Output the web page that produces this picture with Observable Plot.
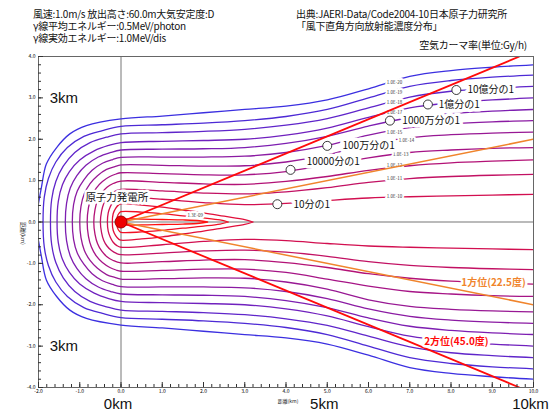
<!DOCTYPE html>
<html><head><meta charset="utf-8">
<script src="https://cdn.jsdelivr.net/npm/d3@7"></script>
<script src="https://cdn.jsdelivr.net/npm/@observablehq/plot@0.6"></script>
<style>
body{margin:0;background:#fff;}
#wrap{position:relative;width:550px;height:414px;overflow:hidden;font-family:"Noto Sans CJK JP",sans-serif;}
#wrap svg{position:absolute;left:0;top:0;}
.hd{position:absolute;font-size:10px;line-height:12px;white-space:pre;color:#111;letter-spacing:-0.25px;}
</style></head><body><div id="wrap"></div>
<script>
// ---- header text ----
const headerLeft = [
  "風速:1.0m/s 放出高さ:60.0m大気安定度:D",
  "γ線平均エネルギー:0.5MeV/photon",
  "γ線実効エネルギー:1.0MeV/dis"
];
const headerRight = [
  "出典:JAERI-Data/Code2004-10日本原子力研究所",
  "「風下直角方向放射能濃度分布」"
];
const unitText = "空気カーマ率(単位:Gy/h)";

// ---- contour lines (upper half, km; mirrored for the lower half) ----
const contourLevels = ["1.0E-20","1.0E-19","1.0E-18","1.0E-17","1.0E-16","1.0E-15","1.0E-14","1.0E-13","1.0E-12","1.0E-11","1.0E-10","1.0E-09","1.2E-09","1.3E-09"];
const c00 = [[-2.0,0.45],[-1.93,0.83],[-1.81,1.40],[-1.56,1.80],[-1.24,2.13],[-0.84,2.33],[0,2.49],[1,2.56],[2,2.64],[3,2.72],[4,2.80],[5,2.95],[6,3.22],[7,3.52],[8,3.66],[9,3.74],[10,3.80]];
const c01 = [[-1.89,0],[-1.86,0.6],[-1.76,1.05],[-1.58,1.45],[-1.3,1.8],[-0.9,2.07],[-0.45,2.21],[0,2.31],[1,2.35],[2,2.39],[3,2.45],[4,2.55],[5,2.72],[6,3.0],[7,3.28],[8,3.42],[9,3.50],[10,3.55]];
const c02 = [[-1.71,0],[-1.68,0.55],[-1.58,0.98],[-1.40,1.35],[-1.12,1.68],[-0.75,1.92],[-0.35,2.05],[0,2.13],[1,2.16],[2,2.19],[3,2.24],[4,2.34],[5,2.50],[6,2.76],[7,3.02],[8,3.16],[9,3.23],[10,3.28]];
const c03 = [[-1.55,0],[-1.52,0.5],[-1.42,0.9],[-1.25,1.22],[-1.0,1.50],[-0.65,1.72],[-0.3,1.85],[0,1.92],[1,1.95],[2,1.97],[3,2.0],[4,2.10],[5,2.27],[6,2.53],[7,2.76],[8,2.88],[9,2.95],[10,3.0]];
const c04 = [[-1.35,0],[-1.32,0.45],[-1.23,0.82],[-1.07,1.12],[-0.85,1.37],[-0.55,1.57],[-0.25,1.68],[0,1.74],[1,1.76],[2,1.77],[3,1.80],[4,1.90],[5,2.07],[6,2.32],[7,2.52],[8,2.62],[9,2.68],[10,2.72]];
const c05 = [[-1.18,0],[-1.15,0.42],[-1.06,0.75],[-0.9,1.02],[-0.7,1.25],[-0.45,1.42],[-0.2,1.51],[0,1.56],[1,1.57],[2,1.57],[3,1.59],[4,1.68],[5,1.85],[6,2.10],[7,2.28],[8,2.37],[9,2.42],[10,2.45]];
const c06 = [[-1.0,0],[-0.97,0.38],[-0.89,0.68],[-0.75,0.93],[-0.57,1.12],[-0.35,1.27],[-0.15,1.34],[0,1.38],[1,1.37],[2,1.35],[3,1.36],[4,1.45],[5,1.62],[6,1.88],[7,2.04],[8,2.11],[9,2.15],[10,2.17]];
const c07 = [[-0.82,0],[-0.79,0.34],[-0.72,0.6],[-0.6,0.82],[-0.45,0.98],[-0.27,1.10],[-0.12,1.16],[0,1.19],[1,1.17],[2,1.14],[3,1.14],[4,1.22],[5,1.38],[6,1.55],[7,1.68],[8,1.74],[9,1.78],[10,1.80]];
const c08 = [[-0.66,0],[-0.63,0.3],[-0.57,0.52],[-0.47,0.7],[-0.34,0.84],[-0.19,0.93],[0,0.99],[1,0.96],[2,0.92],[3,0.91],[4,0.98],[5,1.10],[6,1.25],[7,1.36],[8,1.43],[9,1.47],[10,1.50]];
const c09 = [[-0.5,0],[-0.47,0.26],[-0.42,0.44],[-0.34,0.58],[-0.23,0.69],[-0.11,0.76],[0,0.79],[1,0.75],[2,0.70],[3,0.68],[4,0.73],[5,0.83],[6,0.96],[7,1.05],[8,1.10],[9,1.13],[10,1.15]];
const c10 = [[-0.33,0],[-0.31,0.22],[-0.26,0.37],[-0.19,0.49],[-0.1,0.57],[0,0.61],[1,0.55],[2,0.47],[3,0.42],[4,0.45],[5,0.52],[6,0.58],[7,0.61],[8,0.63],[9,0.65],[10,0.67]];
const c11 = [[-0.21,0],[-0.19,0.2],[-0.13,0.33],[-0.05,0.42],[0,0.44],[0.5,0.41],[1,0.36],[1.5,0.29],[2,0.22],[2.5,0.14],[3.0,0.06],[3.2,0]];
const c12 = [[-0.11,0],[-0.09,0.13],[-0.04,0.22],[0,0.25],[0.5,0.24],[1,0.20],[1.5,0.15],[2,0.10],[2.4,0.05],[2.6,0]];
const c13 = [[-0.06,0],[-0.04,0.05],[0,0.07],[0.5,0.07],[1,0.06],[1.5,0.05],[1.9,0.03],[2.1,0]];
const contourPoints = [c00,c01,c02,c03,c04,c05,c06,c07,c08,c09,c10,c11,c12,c13];

// small level labels on the contours (x, y in km)
const levelLabelText = ["1.0E-20","1.0E-19","1.0E-18","1.0E-17","1.0E-15","1.0E-14","1.0E-13","1.0E-12","1.0E-11","1.0E-10","1.3E-09"];
const levelLabelX = [6.63,6.63,6.63,6.63,6.63,6.92,6.78,6.63,6.63,6.63,1.8];
const levelLabelY = [3.38,3.13,2.89,2.65,2.16,1.96,1.64,1.36,1.06,0.61,0.15];

// dilution markers
const fracText = ["10分の1","10000分の1","100万分の1","1000万分の1","1億分の1","10億分の1"];
const fracCx = [3.79,4.11,5.00,6.52,7.44,8.13];
const fracCy = [0.43,1.26,1.84,2.45,2.84,3.19];
const fracTx = [4.18,4.50,5.37,6.82,7.70,8.40];
const fracTy = [0.41,1.45,1.84,2.45,2.84,3.20];

// sector rays (end points, km)
const rayX = [9.66, 10, 10, 9.66];
const rayY = [4.0, 2.0, -2.0, -4.0];
const rayKind = ["2方位","1方位","1方位","2方位"];
const sectorText = ["1方位(22.5度)","2方位(45.0度)"];
const sectorX = [9.03, 8.13];
const sectorY = [-1.48, -2.90];

const kmLabels = ["0km","5km","10km"];
const kmX = [0,5,10];
const sideLabels = ["3km","3km"];
const sideY = [3,-3];

// ---- build tables ----
const colorStops = ["#3b2fe0","#6a22c4","#8e1aa0","#b0127a","#d80f48","#ff1010"];
const colorAt = d3.scaleLinear().domain(d3.range(colorStops.length).map(i=>i*13/(colorStops.length-1))).range(colorStops).interpolate(d3.interpolateRgb);
const rows = [];
contourPoints.forEach((pts, i) => {
  const up = pts.map(([x,y]) => ({x, y}));
  const lo = pts.map(([x,y]) => ({x, y: -y}));
  if (pts[0][1] === 0) {
    [...up.slice().reverse(), ...lo.slice(1)].forEach(p => rows.push({...p, id: "c"+i, c: colorAt(i)}));
  } else {
    up.forEach(p => rows.push({...p, id: "u"+i, c: colorAt(i)}));
    lo.forEach(p => rows.push({...p, id: "l"+i, c: colorAt(i)}));
  }
});
const levelLabels = levelLabelText.map((t,i)=>({t, x: levelLabelX[i], y: levelLabelY[i]}));
const fracs = fracText.map((t,i)=>({t, cx: fracCx[i], cy: fracCy[i], tx: fracTx[i], ty: fracTy[i]}));
const rays = rayX.map((x,i)=>({x, y: rayY[i], k: rayKind[i]}));
const sectors = sectorText.map((t,i)=>({t, x: sectorX[i], y: sectorY[i], k: i===0 ? "1方位" : "2方位"}));
const rayColor = {"1方位":"#f0842c","2方位":"#ff0a0a"};

const chart = Plot.plot({
  width: 550, height: 414,
  marginLeft: 38, marginRight: 17, marginTop: 56, marginBottom: 27,
  x: {domain: [-2, 10]},
  y: {domain: [-4, 4]},
  color: {type: "identity"},
  style: {fontFamily: "'Noto Sans CJK JP', sans-serif", background: "white", overflow: "visible"},
  marks: [
    Plot.ruleX([0], {stroke: "#777", strokeWidth: 1}),
    Plot.ruleY([0], {stroke: "#777", strokeWidth: 1.2}),
    Plot.line(rows, {x: "x", y: "y", z: "id", stroke: "c", strokeWidth: 1.3, curve: "catmull-rom", clip: "frame"}),
    Plot.text(levelLabels, {x: "x", y: "y", text: "t", fontSize: 4.5, fill: "#333", stroke: "white", strokeWidth: 4}),
    Plot.link(rays, {x1: () => 0, y1: () => 0, x2: "x", y2: "y", stroke: d => rayColor[d.k], strokeWidth: d => d.k === "2方位" ? 1.8 : 1.5, clip: "frame"}),
    Plot.text(sectors, {x: "x", y: "y", text: "t", fontSize: 10, fontWeight: "bold", fill: d => rayColor[d.k], stroke: "white", strokeWidth: 5}),
    Plot.text(fracs, {x: "tx", y: "ty", text: "t", textAnchor: "start", fontSize: 10, fill: "#111", stroke: "white", strokeWidth: 7}),
    Plot.dot(fracs, {x: "cx", y: "cy", r: 4.5, fill: "white", stroke: "#222", strokeWidth: 0.9}),
    Plot.text(["原子力発電所"], {x: -0.1, y: 0.58, text: d => d, fontSize: 10.5, fill: "#111", stroke: "white", strokeWidth: 5}),
    Plot.dot([0], {x: () => 0, y: () => 0, r: 6, fill: "#ee0000", stroke: "#a00000", strokeWidth: 1}),
    Plot.frame({stroke: "#666"}),
    Plot.axisX({ticks: d3.range(-2, 10.001, 0.2), tickSize: -3, tickFormat: () => "", label: null, stroke: "#333"}),
    Plot.axisX({ticks: d3.range(-2, 10.001, 1), tickSize: -5, tickPadding: 7, tickFormat: d => d.toFixed(1), fontSize: 5, label: null, stroke: "#333"}),
    Plot.axisY({ticks: d3.range(-4, 4.001, 0.2), tickSize: -3, tickFormat: () => "", label: null, stroke: "#333"}),
    Plot.axisY({ticks: d3.range(-4, 4.001, 1), tickSize: -5, tickPadding: 8, tickFormat: d => d.toFixed(1), fontSize: 5, label: null, stroke: "#333"}),
    Plot.text(["距離(km)"], {x: 4.05, frameAnchor: "bottom", dy: 15, text: d => d, fontSize: 5, fill: "#222"}),
    Plot.text(["距離(km)"], {y: 0, frameAnchor: "left", dx: -16, rotate: 90, text: d => d, fontSize: 5.5, fill: "#222"}),
    Plot.text(kmLabels, {x: (d,i) => kmX[i], frameAnchor: "bottom", dy: 21, dx: -3, text: d => d, fontSize: 15, fontFamily: "'Liberation Sans', sans-serif", letterSpacing: "-0.5px", fill: "#111"}),
    Plot.text(sideLabels, {x: -1.73, y: (d,i) => sideY[i], text: d => d, textAnchor: "start", fontSize: 15, fontFamily: "'Liberation Sans', sans-serif", fill: "#111"})
  ]
});
const wrap = document.getElementById("wrap");
wrap.appendChild(chart);

function addBlock(lines, left, top, extra) {
  const d = document.createElement("div");
  d.className = "hd";
  d.style.left = left + "px"; d.style.top = top + "px";
  if (extra) Object.assign(d.style, extra);
  d.textContent = lines.join("\n");
  wrap.appendChild(d);
}
addBlock(headerLeft, 33, 8);
addBlock(headerRight, 296, 8);
addBlock([unitText], 0, 39, {left: "auto", right: "23px"});
</script></body></html>
